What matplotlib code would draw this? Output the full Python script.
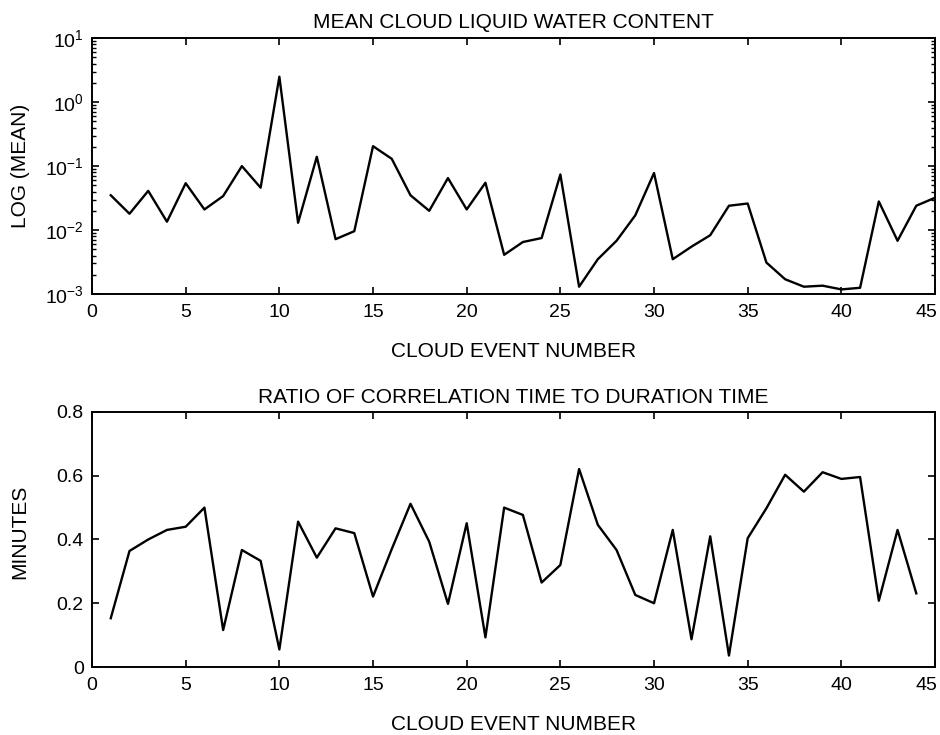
import matplotlib
matplotlib.use("Agg")
import matplotlib.pyplot as plt
import matplotlib.transforms as mtransforms
from matplotlib.ticker import LogLocator, NullFormatter

plt.rcParams['font.family'] = ['Liberation Sans', 'DejaVu Sans']
plt.rcParams['mathtext.fontset'] = 'custom'
plt.rcParams['mathtext.rm'] = 'Liberation Sans'
plt.rcParams['mathtext.it'] = 'Liberation Sans'
plt.rcParams['mathtext.default'] = 'regular'
plt.rcParams['axes.unicode_minus'] = False

# mean cloud liquid water content, events 1..45
events_top = list(range(1, 46))
mean_lwc = [0.035, 0.018, 0.041, 0.0135, 0.054, 0.021, 0.034, 0.10, 0.046, 2.5,
            0.013, 0.14, 0.0072, 0.0096, 0.205, 0.13, 0.035, 0.020, 0.065, 0.021,
            0.055, 0.0041, 0.0065, 0.0075, 0.074, 0.0013, 0.0035, 0.0068, 0.017, 0.078,
            0.0035, 0.0055, 0.0083, 0.024, 0.026, 0.0031, 0.0017, 0.0013, 0.00135, 0.00118,
            0.00125, 0.028, 0.0068, 0.024, 0.032]

# ratio of correlation time to duration time, events 1..44
events_bot = list(range(1, 45))
ratio = [0.153, 0.364, 0.40, 0.43, 0.44, 0.50, 0.116, 0.367, 0.333, 0.055,
         0.456, 0.343, 0.435, 0.42, 0.221, 0.37, 0.512, 0.393, 0.198, 0.451,
         0.093, 0.50, 0.477, 0.265, 0.32, 0.621, 0.446, 0.367, 0.226, 0.20,
         0.43, 0.087, 0.41, 0.036, 0.404, 0.498, 0.603, 0.55, 0.611, 0.59,
         0.596, 0.208, 0.43, 0.231]

xticks = [0, 5, 10, 15, 20, 25, 30, 35, 40, 45]
ratio_ticks = [0, 0.2, 0.4, 0.6, 0.8]
ratio_labels = ['0', '0.2', '0.4', '0.6', '0.8']

fig = plt.figure(figsize=(9.4, 7.35), dpi=100)
ax1 = fig.add_axes([0.0979, 0.6, 0.8968, 0.348])
ax2 = fig.add_axes([0.0979, 0.0925, 0.8968, 0.347])

# top panel
ax1.plot(events_top, mean_lwc, color='black', lw=1.7)
ax1.set_yscale('log')
ax1.set_ylim(1e-3, 1e1)
ax1.set_xlim(0, 45)
ax1.set_xticks(xticks)
ax1.yaxis.set_major_locator(LogLocator(base=10, numticks=10))
ax1.yaxis.set_minor_locator(LogLocator(base=10, subs=range(2, 10), numticks=20))
ax1.yaxis.set_minor_formatter(NullFormatter())
ax1.set_title('MEAN CLOUD LIQUID WATER CONTENT', fontsize=15, pad=7)
ax1.set_xlabel('CLOUD EVENT NUMBER', fontsize=15)
ax1.set_ylabel('LOG (MEAN)', fontsize=15)

# bottom panel
ax2.plot(events_bot, ratio, color='black', lw=1.7)
ax2.set_xlim(0, 45)
ax2.set_ylim(0, 0.8)
ax2.set_xticks(xticks)
ax2.set_yticks(ratio_ticks)
ax2.set_yticklabels(ratio_labels)
ax2.set_title('RATIO OF CORRELATION TIME TO DURATION TIME', fontsize=15, pad=6.5)
ax2.set_xlabel('CLOUD EVENT NUMBER', fontsize=15)
ax2.set_ylabel('MINUTES', fontsize=15)

for ax in (ax1, ax2):
    for s in ax.spines.values():
        s.set_linewidth(1.4)
    ax.tick_params(which='major', direction='in', length=5, width=1.2,
                   top=True, right=True, labelsize=14, pad=7)
    ax.tick_params(which='minor', direction='in', length=3, width=1.0,
                   top=True, right=True)
    ax.tick_params(axis='y', pad=6)
    ax.xaxis.set_label_coords(0.5, -0.188)

ax1.yaxis.set_label_coords(-0.074, 0.5)
ax2.yaxis.set_label_coords(-0.074, 0.53)

# the last "45" label sits a little left of its tick, as in the scan
shift = mtransforms.ScaledTranslation(-9 / 100, 0, fig.dpi_scale_trans)
fig.canvas.draw()
for ax in (ax1, ax2):
    lab = ax.get_xticklabels()[-1]
    lab.set_transform(lab.get_transform() + shift)

fig.savefig('out.png', dpi=100)
